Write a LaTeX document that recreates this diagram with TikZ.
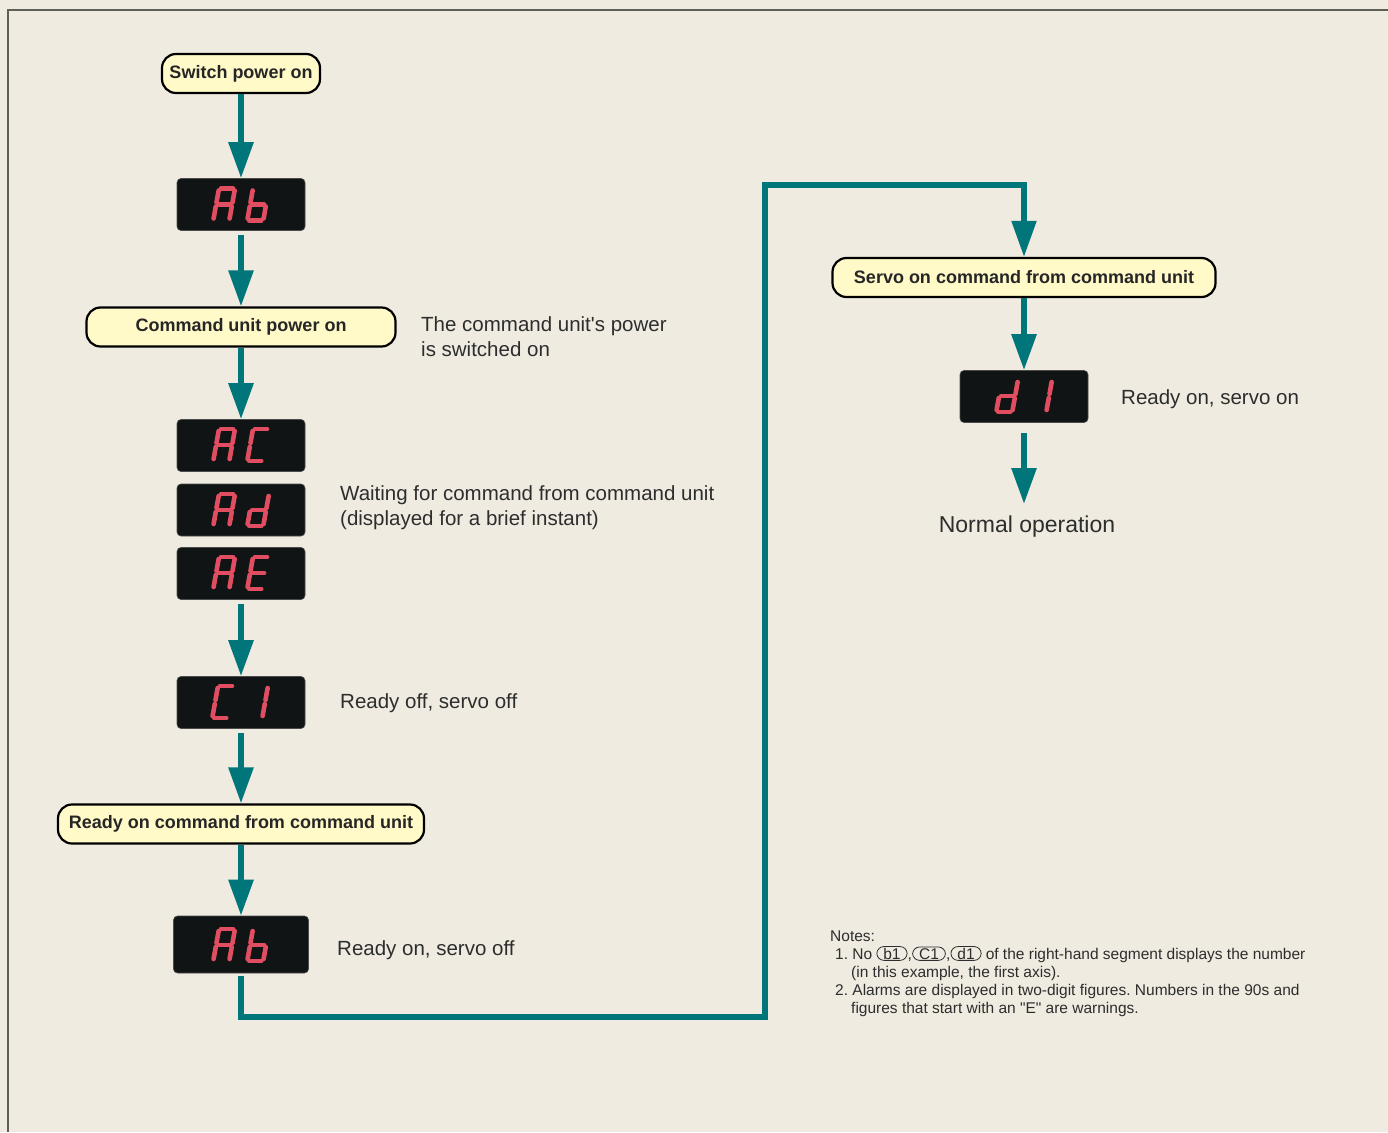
\documentclass[tikz,border=0pt]{standalone}
\usepackage{fontspec}
\setmainfont{Liberation Sans}[Ligatures=TeXOff]
\usetikzlibrary{arrows.meta}
\definecolor{bgc}{RGB}{239,235,224}
\definecolor{tealc}{RGB}{0,118,122}
\definecolor{boxy}{RGB}{255,250,200}
\definecolor{dispbg}{RGB}{16,20,20}
\definecolor{segred}{RGB}{225,78,98}
\definecolor{txt}{RGB}{45,45,45}
\definecolor{framec}{RGB}{95,95,90}
\def\segA{(2,0)--(14,0)}
\def\segB{(16,2)--(16,14)}
\def\segC{(16,18)--(16,30)}
\def\segD{(2,32)--(14,32)}
\def\segE{(0,18)--(0,30)}
\def\segF{(0,2)--(0,14)}
\def\segG{(2,16)--(14,16)}
\newcommand{\sevdigit}[3]{%
  \begin{scope}[shift={(#1,#2)},xslant=0.18]
    \foreach \s in {#3}{\draw[seg] \csname seg\s\endcsname;}
  \end{scope}}
\frenchspacing
\begin{document}
\begin{tikzpicture}[x=1pt,y=-1pt,
  flowbox/.style={draw=black, line width=2.2pt, fill=boxy, rounded corners=14pt,
    font=\fontsize{18}{20}\selectfont\bfseries, text=black!85, minimum height=39pt, inner sep=0pt},
  display/.style={fill=dispbg, draw=black!70, line width=0.6pt, rounded corners=4pt,
    minimum width=128pt, minimum height=52pt, inner sep=0pt},
  arr/.style={draw=tealc, line width=5.8pt, -{Triangle[width=24pt,length=36pt]}},
  seg/.style={draw=segred, line width=4.6pt, line cap=round},
  body/.style={font=\fontsize{20.5}{25}\selectfont, text=txt, inner sep=0pt},
  note/.style={font=\fontsize{15.5}{18}\selectfont, text=txt, inner sep=0pt},
  keybox/.style={note, draw=txt, line width=0.8pt, rounded corners=7pt, inner xsep=6.5pt, inner ysep=1.2pt}
]
\useasboundingbox (0,0) rectangle (1388,1132);
\fill[bgc] (0,0) rectangle (1388,1132);
\draw[framec, line width=1.5pt] (8,1132) -- (8,10) -- (1388,10);

% boxes
\node[flowbox, minimum width=158pt] (sw) at (241,73.5) {Switch power on};
\node[flowbox, minimum width=309pt] (cu) at (241,327) {Command unit power on};
\node[flowbox, minimum width=366pt] (rd) at (241,824) {Ready on command from command unit};
\node[flowbox, minimum width=383pt] (sv) at (1024,277.5) {Servo on command from command unit};

% displays
\node[display] (ab1) at (241,204.5) {};
\node[display] (ac) at (241,445.5) {};
\node[display] (ad) at (241,510) {};
\node[display] (ae) at (241,573.5) {};
\node[display] (c1) at (241,702.5) {};
\node[display, minimum width=135pt, minimum height=57pt] (ab2) at (241,944.5) {};
\node[display] (d1) at (1024,396.5) {};

% digits
\sevdigit{219}{188.5}{A,B,C,E,F,G}\sevdigit{253}{188.5}{C,D,E,F,G}
\sevdigit{219}{429}{A,B,C,E,F,G}\sevdigit{253}{429}{A,D,E,F}
\sevdigit{219}{494}{A,B,C,E,F,G}\sevdigit{253}{494}{B,C,D,E,G}
\sevdigit{219}{557}{A,B,C,E,F,G}\sevdigit{253}{557}{A,D,E,F,G}
\sevdigit{218}{686}{A,D,E,F}\sevdigit{252}{686}{B,C}
\sevdigit{219}{929}{A,B,C,E,F,G}\sevdigit{253}{929}{C,D,E,F,G}
\sevdigit{1002}{380}{B,C,D,E,G}\sevdigit{1036}{380}{B,C}

% texts
\node[body, anchor=west, align=left] (t1) at (421,336.5) {The command unit's power\\is switched on};
\node[body, anchor=west, align=left] (t2) at (340,507.5) {Waiting for command from command unit\\(displayed for a brief instant)};
\node[body, anchor=base west] (t3) at (340,708) {Ready off, servo off};
\node[body, anchor=base west] (t4) at (337,955) {Ready on, servo off};
\node[body, anchor=base west] (t5) at (1121,404) {Ready on, servo on};
\node[body, font=\fontsize{23}{27}\selectfont, anchor=base, inner sep=0pt] (normal) at (1027,532) {Normal operation};
\coordinate (normaltop) at (1024,504);

% arrows
\draw[arr] (sw.south) -- (ab1.north);
\draw[arr, shorten <=4pt] (ab1.south) -- (cu.north);
\draw[arr] (cu.south) -- (ac.north);
\draw[arr, shorten <=4pt] (ae.south) -- (c1.north);
\draw[arr, shorten <=4pt] (c1.south) -- (rd.north);
\draw[arr] (rd.south) -- (ab2.north);
\draw[arr, line width=5.2pt, shorten <=3pt] (ab2.south) -- (241,1017) -| (765,185) -| (sv.north);
\draw[arr] (sv.south) -- (d1.north);
\draw[arr, shorten <=10pt] (d1.south) -- (normaltop);

% notes
\node[note, anchor=base west] (nh) at (830,941) {Notes:};
\node[note, anchor=base west] (n1) at (835,959) {1. No};
\node[keybox, anchor=base west] (kb) at ([xshift=4pt]n1.base east) {b1};
\node[note, anchor=base west] (cm1) at (kb.base east) {,};
\node[keybox, anchor=base west] (kc) at (cm1.base east) {C1};
\node[note, anchor=base west] (cm2) at (kc.base east) {,};
\node[keybox, anchor=base west] (kd) at (cm2.base east) {d1};
\node[note, anchor=base west] (n1r) at ([xshift=4pt]kd.base east) {of the right-hand segment displays the number};
\node[note, anchor=base west] (n1b) at (851,977) {(in this example, the first axis).};
\node[note, anchor=base west] (n2) at (835,995) {2. Alarms are displayed in two-digit figures. Numbers in the 90s and};
\node[note, anchor=base west] (n2b) at (851,1013) {figures that start with an "E" are warnings.};
\end{tikzpicture}
\end{document}
